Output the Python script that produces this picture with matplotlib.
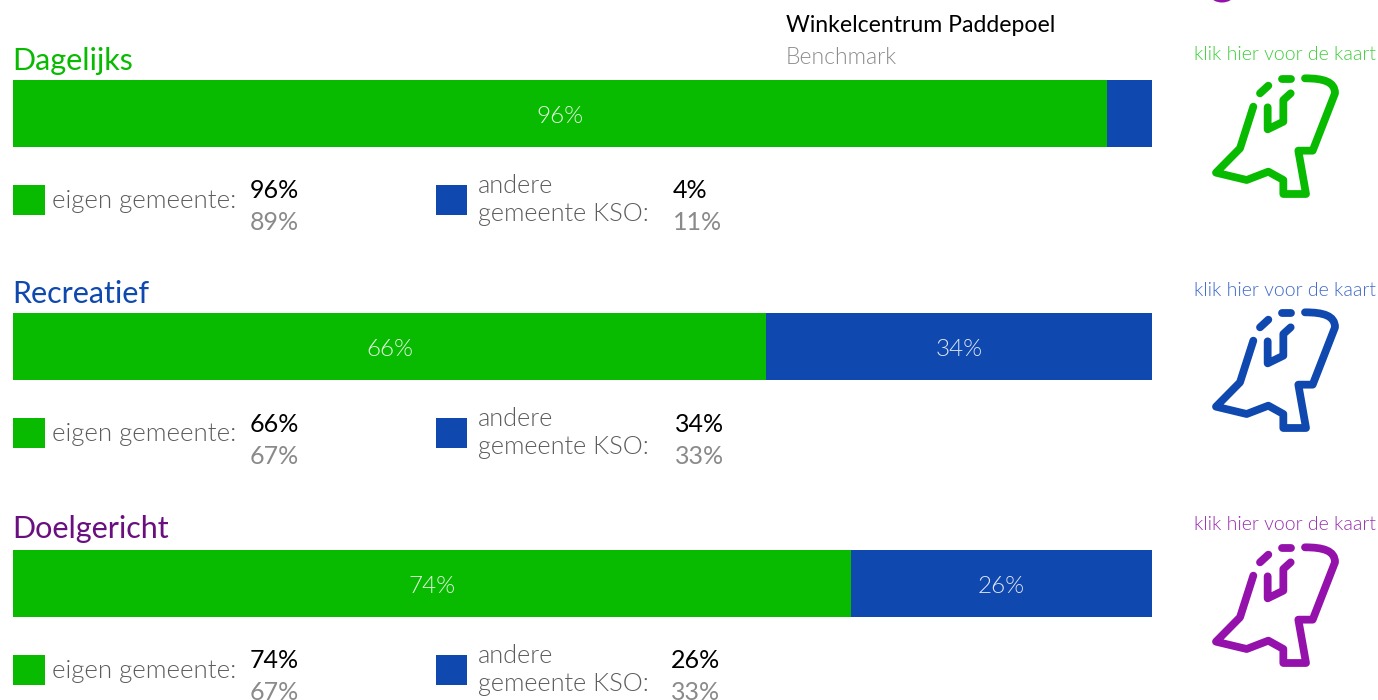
import matplotlib
matplotlib.use("Agg")
import matplotlib.pyplot as plt
from matplotlib.path import Path
from matplotlib.patches import PathPatch, Rectangle, Ellipse

plt.rcParams['font.family'] = ['Lato', 'DejaVu Sans']
plt.rcParams['font.weight'] = 300

titles = ["Dagelijks", "Recreatief", "Doelgericht"]
own = [96.05, 66.15, 73.6]
other = [3.95, 33.85, 26.4]
own_labels = ["96%", "66%", "74%"]
other_labels = ["", "34%", "26%"]
own_bench = ["89%", "67%", "67%"]
other_value = ["4%", "34%", "26%"]
other_bench = ["11%", "33%", "33%"]
legend_own = "eigen gemeente:"
legend_other = "andere\ngemeente KSO:"
link_text = "klik hier voor de kaart"

GREEN = "#08bb00"
BLUE = "#0f48ae"
title_colors = [GREEN, BLUE, "#6a0f80"]
link_colors = ["#3fcf3a", "#3f68c8", "#9a2eb0"]
icon_colors = [GREEN, BLUE, "#9411ab"]

W, H = 1378, 700
fig = plt.figure(figsize=(W / 100, H / 100), dpi=100, facecolor="white")
ax = fig.add_axes([0, 0, 1, 1])
ax.set_xlim(0, W)
ax.set_ylim(H, 0)
ax.axis("off")

bar_top = [80, 313, 550]
title_y = [61, 294, 529]
link_y = [54, 290, 525]
legend_y = [200, 433, 670]
val_y = [[191, 223], [424, 456], [661, 692]]
other_x = [673, 675, 671]
icon_dy = [0, 234, 469]

# icon traced in pixels of the first one
def ic(x, y):
    return (1180 + x / 3, y / 3)

def draw_icon(dy, color):
    parts = [
        ([(220, 320), (180, 445), (108, 518), (200, 540), (265, 515), (310, 540),
          (310, 582), (378, 582), (355, 452), (398, 452), (465, 280)],
         [(465, 245), (430, 235), (375, 235)]),
        ([(240, 280), (265, 257)], []),
        ([(305, 237), (332, 237)], []),
        ([(263, 322), (263, 388), (310, 365), (310, 300), (332, 280)], []),
    ]
    for line, curve in parts:
        verts = [ic(*p) for p in line]
        codes = [Path.MOVETO] + [Path.LINETO] * (len(line) - 1)
        if curve:
            verts += [ic(*p) for p in curve]
            codes += [Path.CURVE4] * 3
        verts = [(x, y + dy) for x, y in verts]
        ax.add_patch(PathPatch(Path(verts, codes), fill=False, edgecolor=color, lw=5.6,
                               capstyle="round", joinstyle="round"))

for i in range(3):
    ax.text(12, title_y[i], titles[i], color=title_colors[i], fontsize=22, va="center", ha="left",
            fontweight="normal")

    bar_ax = fig.add_axes([13 / W, 1 - (bar_top[i] + 67) / H, 1139 / W, 67 / H])
    bar_ax.barh([0], [own[i]], height=1, color=GREEN)
    bar_ax.barh([0], [other[i]], left=[own[i]], height=1, color=BLUE)
    bar_ax.set_xlim(0, 100)
    bar_ax.set_ylim(-0.5, 0.5)
    bar_ax.axis("off")
    bar_ax.text(own[i] / 2, -0.04, own_labels[i], color="#e4f6e2", fontsize=17.5, ha="center", va="center")
    if other_labels[i]:
        bar_ax.text(own[i] + other[i] / 2, -0.04, other_labels[i], color="#dfe6f5", fontsize=17.5,
                    ha="center", va="center")

    y = legend_y[i]
    ax.add_patch(Rectangle((13, y - 15), 32, 30, color=GREEN, lw=0))
    ax.add_patch(Rectangle((436, y - 15), 31, 30, color=BLUE, lw=0))
    ax.text(52, y + 1, legend_own, color="#5c5c5c", fontsize=18.5, va="center")
    ax.text(478, y, legend_other, color="#5c5c5c", fontsize=18.2, va="center", linespacing=1.25)
    ax.text(250, val_y[i][0], own_labels[i], color="black", fontsize=18, va="center", fontweight="normal")
    ax.text(250, val_y[i][1], own_bench[i], color="#8a8a8a", fontsize=18, va="center", fontweight="normal")
    ax.text(other_x[i], val_y[i][0], other_value[i], color="black", fontsize=18, va="center", fontweight="normal")
    ax.text(other_x[i], val_y[i][1], other_bench[i], color="#8a8a8a", fontsize=18, va="center", fontweight="normal")

    ax.text(1285, link_y[i], link_text, color=link_colors[i], fontsize=14, ha="center", va="center")
    draw_icon(icon_dy[i], icon_colors[i])

ax.text(786, 26, "Winkelcentrum Paddepoel", color="black", fontsize=16.6, va="center", fontweight="normal")
ax.text(786, 57, "Benchmark", color="#8c8c8c", fontsize=16.5, va="center")
ax.add_patch(Ellipse((1222, -4), 22, 13, color="#9411ab", lw=0))

fig.savefig("out.png", dpi=100)
